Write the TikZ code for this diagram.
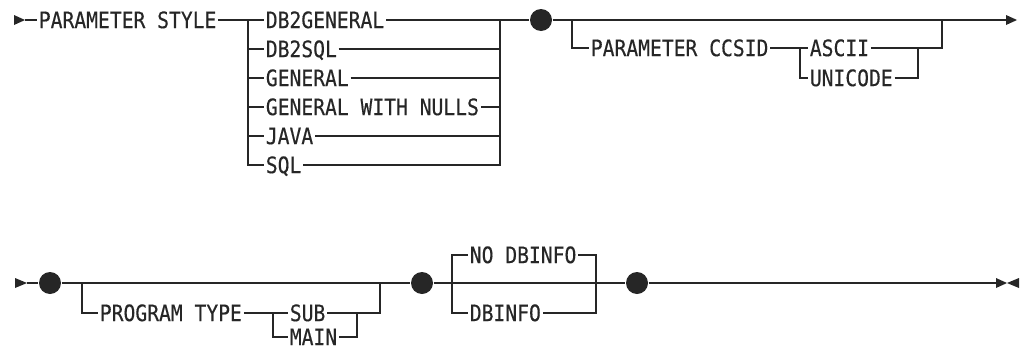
\documentclass[tikz,border=0pt]{standalone}
\usepackage{fontspec}
\setmonofont[FakeStretch=0.87,FakeBold=0.4]{DejaVu Sans Mono}

\begin{document}
\begin{tikzpicture}[x=0.5pt,y=-0.5pt,line width=0.65pt,color=black!85,
  kw/.style={anchor=west,inner sep=0.6pt,font=\ttfamily\fontsize{11.3}{13}\selectfont,text height=8.1pt,text depth=0pt},
  dot/.style={circle,fill,inner sep=0pt,minimum size=11pt}]

\useasboundingbox (0,0) rectangle (1024,354);

\node[kw] (ps) at (37,20) {PARAMETER STYLE};
\node[kw] (db2general) at (264,20) {DB2GENERAL};
\node[kw] (db2sql) at (264,49) {DB2SQL};
\node[kw] (general) at (264,78) {GENERAL};
\node[kw] (gwn) at (264,107) {GENERAL WITH NULLS};
\node[kw] (java) at (264,136) {JAVA};
\node[kw] (sql) at (264,165) {SQL};
\node[dot] (d1) at (541,20) {};
\node[kw] (ccsid) at (589,48) {PARAMETER CCSID};
\node[kw] (ascii) at (808,48) {ASCII};
\node[kw] (unicode) at (808,78) {UNICODE};

\coordinate (start1) at (25,20);
\coordinate (l1) at (248,20);
\coordinate (r1) at (500,20);
\coordinate (l2) at (572,20);
\coordinate (l3) at (800,48);
\coordinate (r3) at (918,48);
\coordinate (r2) at (942,20);
\coordinate (end1) at (1006,20);

\fill (start1) -- ++(-11,-5) -- ++(0,10) -- cycle;
\draw (start1) -- (ps.west);
\draw (ps.east) -- (db2general.west);
\draw (l1) |- (sql.west);
\draw (db2general.east) -- (r1) |- (sql.east);
\foreach \opt in {db2sql,general,gwn,java} {
  \draw (l1 |- \opt.west) -- (\opt.west);
  \draw (\opt.east) -- (r1 |- \opt.east);
}
\draw (r1) -- (d1) -- (end1);
\fill (end1) -- ++(0,-5) -- ++(11,5) -- ++(-11,5) -- cycle;
\draw (l2) |- (ccsid.west);
\draw (ccsid.east) -- (l3) |- (unicode.west);
\draw (l3) -- (ascii.west);
\draw (ascii.east) -- (r2 |- ascii.east) -- (r2);
\draw (unicode.east) -| (r3);

\node[dot] (d2) at (50,283) {};
\node[kw] (ptype) at (98,313) {PROGRAM TYPE};
\node[kw] (sub) at (288,313) {SUB};
\node[kw] (main) at (288,337) {MAIN};
\node[dot] (d3) at (422,283) {};
\node[kw] (nodbinfo) at (468,255) {NO DBINFO};
\node[kw] (dbinfo) at (468,313) {DBINFO};
\node[dot] (d4) at (637,283) {};

\coordinate (start2) at (27,283);
\coordinate (l4) at (82,283);
\coordinate (l5) at (273,313);
\coordinate (r5) at (357,313);
\coordinate (r4) at (380,283);
\coordinate (l6) at (452,283);
\coordinate (r6) at (596,283);
\coordinate (end2) at (996,283);

\fill (start2) -- ++(-12,-5) -- ++(0,10) -- cycle;
\draw (start2) -- (d2) -- (d3) -- (d4) -- (end2);
\draw (l4) |- (ptype.west);
\draw (ptype.east) -- (l5) -- (sub.west);
\draw (l5) |- (main.west);
\draw (sub.east) -- (r4 |- sub.east) -- (r4);
\draw (main.east) -| (r5);
\draw (nodbinfo.west) -| (l6) |- (dbinfo.west);
\draw (nodbinfo.east) -| (r6) |- (dbinfo.east);
\fill (end2) -- ++(0,-5) -- ++(11,5) -- ++(-11,5) -- cycle;
\fill (end2) ++(23,-5) -- ++(0,10) -- ++(-12,-5) -- cycle;

\end{tikzpicture}
\end{document}
